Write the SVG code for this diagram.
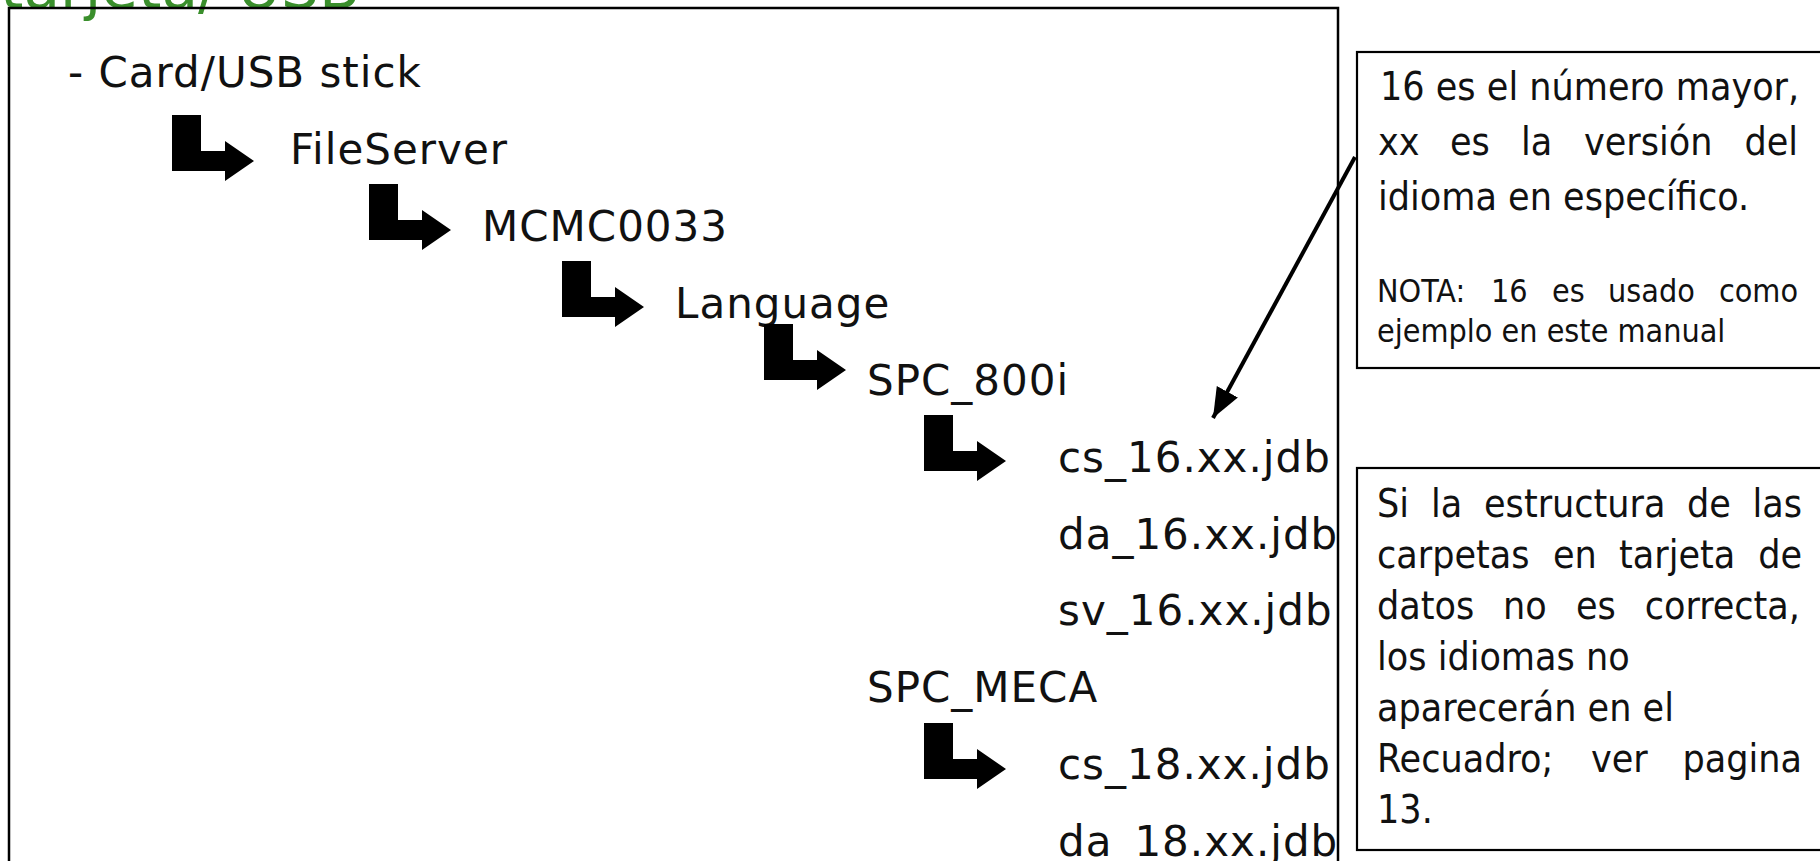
<svg xmlns="http://www.w3.org/2000/svg" xmlns:xlink="http://www.w3.org/1999/xlink" width="1820" height="861" viewBox="0 0 1820 861">
<style>
.tree{font-family:"DejaVu Sans","Noto Sans",sans-serif;font-size:42px;letter-spacing:1px;fill:#111}
.note{font-family:"DejaVu Sans Condensed","DejaVu Sans",sans-serif;font-stretch:condensed;font-size:39px;fill:#111}
.small{font-size:32px}
.box{fill:none;stroke:#000;stroke-width:2.5}
.cbox{fill:#fff;stroke:#000;stroke-width:2.2}
.end{text-anchor:end}
</style>
<defs>
<path id="elbow" d="M0,0 H29 V36 H53 V26 L82,46 L53,66 V56 H0 Z" fill="#000"/>
<marker id="ah" markerUnits="userSpaceOnUse" markerWidth="32" markerHeight="28" refX="30" refY="14" orient="auto" viewBox="0 0 32 28">
<path d="M0,2 L30,14 L0,26 Z" fill="#000"/>
</marker>
</defs>
<rect width="1820" height="861" fill="#fff"/>
<text x="0" y="8" font-family="DejaVu Sans, sans-serif" font-size="60" fill="#3a8f2c" textLength="360" lengthAdjust="spacingAndGlyphs">tarjeta/ USB</text>
<g id="main-box"><rect class="box" x="9" y="8" width="1329" height="900"/></g>
<g id="tree">
<g id="n-card"><text class="tree" x="68" y="87">- Card/USB stick</text></g>
<g id="n-fileserver"><use xlink:href="#elbow" x="172" y="115"/><text class="tree" x="290" y="164">FileServer</text></g>
<g id="n-mcmc"><use xlink:href="#elbow" x="369" y="184"/><text class="tree" x="482" y="241">MCMC0033</text></g>
<g id="n-language"><use xlink:href="#elbow" x="562" y="261"/><text class="tree" x="675" y="318">Language</text></g>
<g id="n-spc800"><use xlink:href="#elbow" x="764" y="324"/><text class="tree" x="867" y="395">SPC_800i</text></g>
<g id="n-cs16"><use xlink:href="#elbow" x="924" y="415"/><text class="tree" x="1058" y="472">cs_16.xx.jdb</text></g>
<g id="n-da16"><text class="tree" x="1058" y="549">da_16.xx.jdb</text></g>
<g id="n-sv16"><text class="tree" x="1058" y="625">sv_16.xx.jdb</text></g>
<g id="n-spcmeca"><text class="tree" x="867" y="702">SPC_MECA</text></g>
<g id="n-cs18"><use xlink:href="#elbow" x="924" y="723"/><text class="tree" x="1058" y="779">cs_18.xx.jdb</text></g>
<g id="n-da18"><text class="tree" x="1058" y="856">da_18.xx.jdb</text></g>
</g>
<g id="callout-1">
<rect class="cbox" x="1357" y="52" width="480" height="316"/>
<text class="note" x="1380" y="100">16 es el número mayor,</text>
<text class="note" y="155"><tspan x="1378">xx</tspan><tspan x="1450">es</tspan><tspan x="1521">la</tspan><tspan x="1584">versión</tspan><tspan x="1798" class="end">del</tspan></text>
<text class="note" x="1378" y="210">idioma en específico.</text>
<text class="note small" y="302"><tspan x="1377">NOTA:</tspan><tspan x="1491">16</tspan><tspan x="1552">es</tspan><tspan x="1608">usado</tspan><tspan x="1798" class="end">como</tspan></text>
<text class="note small" x="1377" y="342">ejemplo en este manual</text>
</g>
<g id="callout-2">
<rect class="cbox" x="1357" y="468" width="480" height="382"/>
<text class="note" y="517"><tspan x="1377">Si</tspan><tspan x="1431">la</tspan><tspan x="1484">estructura</tspan><tspan x="1687">de</tspan><tspan x="1802" class="end">las</tspan></text>
<text class="note" y="568"><tspan x="1377">carpetas</tspan><tspan x="1553">en</tspan><tspan x="1619">tarjeta</tspan><tspan x="1802" class="end">de</tspan></text>
<text class="note" y="619"><tspan x="1377">datos</tspan><tspan x="1503">no</tspan><tspan x="1576">es</tspan><tspan x="1800" class="end">correcta,</tspan></text>
<text class="note" x="1377" y="670">los idiomas no</text>
<text class="note" x="1377" y="721">aparecerán en el</text>
<text class="note" y="772"><tspan x="1377">Recuadro;</tspan><tspan x="1591">ver</tspan><tspan x="1802" class="end">pagina</tspan></text>
<text class="note" x="1377" y="823">13.</text>
</g>
<g id="connectors">
<line x1="1355" y1="157" x2="1213" y2="418" stroke="#000" stroke-width="4" marker-end="url(#ah)"/>
</g>
</svg>
